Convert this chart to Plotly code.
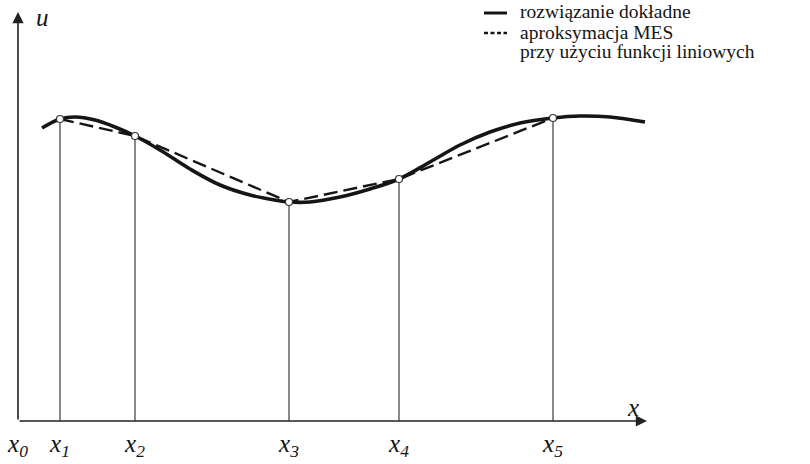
import plotly.graph_objects as go

# ---- data (x measured from the origin x0, u measured up from the x axis) ----
node_names = ["x<sub>0</sub>", "x<sub>1</sub>", "x<sub>2</sub>", "x<sub>3</sub>", "x<sub>4</sub>", "x<sub>5</sub>"]
node_x = [0, 42, 117, 271, 381, 535]
node_u = [302, 285, 219, 242, 303]          # FEM nodal values at x1..x5

exact_x = [24, 42, 57, 77, 97, 117, 142, 172, 202, 232, 257, 271, 292, 322, 352, 381, 412, 442, 472, 502, 535, 562, 592, 627]
exact_u = [293, 302, 304, 301, 294, 285, 271, 252, 236, 226, 221, 219, 219, 224, 232, 242, 259, 276, 289, 298, 303, 305, 304, 299]

legend_labels = ["rozwiązanie dokładne", "aproksymacja MES", "przy użyciu funkcji liniowych"]
axis_labels = ["u", "x"]

SERIF = "Liberation Serif"
INK = "#151515"

fig = go.Figure()

# vertical lines from nodes down to the axis
for xv, uv in zip(node_x[1:], node_u):
    fig.add_trace(go.Scatter(x=[xv, xv], y=[0, uv], mode="lines",
                             line=dict(color="#3a3a3a", width=1.2),
                             showlegend=False, hoverinfo="skip"))

# exact solution
fig.add_trace(go.Scatter(x=exact_x, y=exact_u, mode="lines",
                         line=dict(color=INK, width=3.6, shape="spline", smoothing=1.0),
                         showlegend=False))
# FEM approximation (piecewise linear)
fig.add_trace(go.Scatter(x=node_x[1:], y=node_u, mode="lines",
                         line=dict(color=INK, width=2.4, dash="14px,6px"),
                         showlegend=False))
# nodes
fig.add_trace(go.Scatter(x=node_x[1:], y=node_u, mode="markers",
                         marker=dict(size=7, color="white", line=dict(color="#333", width=1.2)),
                         showlegend=False))

# axes with arrows
fig.add_annotation(x=0, y=409, ax=0, ay=0, xref="x", yref="y", axref="x", ayref="y",
                   showarrow=True, arrowhead=2, arrowsize=1.4, arrowwidth=1.6, arrowcolor="#222", text="")
fig.add_annotation(x=629, y=0, ax=0, ay=0, xref="x", yref="y", axref="x", ayref="y",
                   showarrow=True, arrowhead=2, arrowsize=1.4, arrowwidth=1.6, arrowcolor="#222", text="")

fig.add_annotation(x=24, y=404, xref="x", yref="y", text="<i>" + axis_labels[0] + "</i>", showarrow=False,
                   font=dict(family=SERIF, size=25, color=INK))
fig.add_annotation(x=615, y=14, xref="x", yref="y", text="<i>" + axis_labels[1] + "</i>", showarrow=False,
                   font=dict(family=SERIF, size=25, color=INK))

# manual legend
fig.add_shape(type="line", xref="paper", yref="paper", x0=484/810, x1=507/810,
              y0=1 - 13/421, y1=1 - 13/421, line=dict(color=INK, width=3))
fig.add_shape(type="line", xref="paper", yref="paper", x0=484/810, x1=507/810,
              y0=1 - 33/421, y1=1 - 33/421, line=dict(color=INK, width=2.4, dash="4px,2.5px"))
for i, t in enumerate(legend_labels):
    fig.add_annotation(xref="paper", yref="paper", x=518/810, y=1 - (12 + 20 * i) / 421,
                       xanchor="left", yanchor="middle", showarrow=False, text=t,
                       font=dict(family=SERIF, size=19.5, color=INK))

fig.update_layout(
    width=810, height=464,
    margin=dict(l=0, r=0, t=0, b=43),
    paper_bgcolor="white", plot_bgcolor="white",
    xaxis=dict(range=[-18, 792], showgrid=False, zeroline=False, showline=False,
               tickvals=node_x,
               ticktext=["<i>" + n.replace("<sub>", "<sub><i>").replace("</sub>", "</i></sub>") + "</i>" for n in node_names],
               ticks="", ticklabelstandoff=5,
               tickfont=dict(family=SERIF, size=25, color=INK), automargin=False,
               fixedrange=True),
    yaxis=dict(range=[0, 421], showgrid=False, zeroline=False, showline=False,
               showticklabels=False, ticks="", automargin=False, fixedrange=True),
    showlegend=False,
)

fig.write_html("out.html", config={"displayModeBar": False},
               post_script="document.body.style.margin='0px';")
